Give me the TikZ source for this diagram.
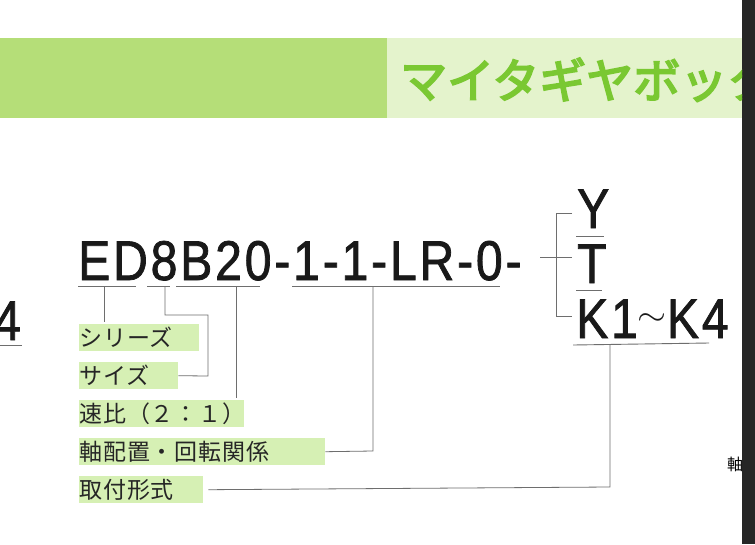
\documentclass[tikz,border=0pt]{standalone}
\usepackage{fontspec}
\setmainfont{Liberation Sans}
\newfontfamily\codef{Liberation Sans}[FakeBold=1.3, FakeStretch=0.86, LetterSpace=5]
\newfontfamily\cjk{Noto Sans CJK JP}[LetterSpace=4]
\newfontfamily\cjkb{Noto Sans CJK JP}[FakeBold=4]
\definecolor{barD}{HTML}{B5DE78}
\definecolor{barL}{HTML}{E4F3CC}
\definecolor{ttl}{HTML}{7AC832}
\definecolor{lab}{HTML}{D6F0B4}
\definecolor{ln}{HTML}{6E6E6E}
\begin{document}
\begin{tikzpicture}[x=1pt,y=-1pt,
  code/.style={font=\codef\fontsize{56}{56}\selectfont, inner sep=0pt, anchor=base west, text=black!90},
  lbl/.style={fill=lab, font=\cjk\fontsize{23}{23}\selectfont, inner sep=0pt, anchor=north west, minimum height=27pt, text=black!85, text width=#1, align=left},
  conn/.style={draw=ln, line width=0.8pt},
  ul/.style={draw=ln, line width=0.9pt}]
\useasboundingbox (0,0) rectangle (755,544);
\fill[white] (0,0) rectangle (742,544);
\fill[black!85] (742,0) rectangle (755,544);
\begin{scope}
\clip (0,0) rectangle (742,544);
\fill[barD] (0,38) rectangle (387,118);
\fill[barL] (387,38) rectangle (742,118);
\node[anchor=base west, inner sep=0pt, text=ttl, font=\cjkb\fontsize{47}{47}\selectfont] (title) at (400,98) {マイタギヤボックス};
\node[anchor=base west, inner sep=0pt, font=\cjk\fontsize{16}{16}\selectfont] (jiku) at (727,470) {軸};
\end{scope}
% left 4
\node[code, anchor=base east] (four) at (21,340) {4};
\draw[ul] (0,345) -- (22,345);
% main code
\node[code] (main) at (78,280) {ED8B20-1-1-LR-0-};
\node[code] (Y) at (577,228) {Y};
\node[code] (T) at (577,283) {T};
\node[code] (K) at (576,338) {K1\raisebox{0.22em}{\scalebox{1.5}[1.3]{$\sim$}}K4};
% underlines
\draw[ul] (78,286) -- (136,286);
\draw[ul] (147,286) -- (170,286);
\draw[ul] (176,286) -- (260,286);
\draw[ul] (292,286) -- (500,286);
\draw[ul] (576,236) -- (604,236);
\draw[ul] (576,290) -- (602,290);
\draw[ul] (573,345) -- (709,343);
% labels
\node[lbl=120pt] (s1) at (79,324) {シリーズ};
\node[lbl=99pt] (s2) at (79,362) {サイズ};
\node[lbl=165pt] (s3) at (79,400) {速比（２：１）};
\node[lbl=246pt] (s4) at (79,438) {軸配置・回転関係};
\node[lbl=124pt] (s5) at (79,476) {取付形式};
% connectors
\draw[conn] (104,286) -- (104,322);
\draw[conn] (165,286) -- (165,315) -- (208,315) -- (208,376) -- (s2.east);
\draw[conn] (236,286) -- (236,398);
\draw[conn] (373,286) -- (373,451) -- (s4.east);
\draw[conn] (610,344) -- (610,487) -- ([xshift=5pt]s5.east);
\draw[conn] (540,257) -- (572,257);
\draw[conn] (572,213) -- (556,213) -- (556,316) -- (572,316);
\end{tikzpicture}
\end{document}
